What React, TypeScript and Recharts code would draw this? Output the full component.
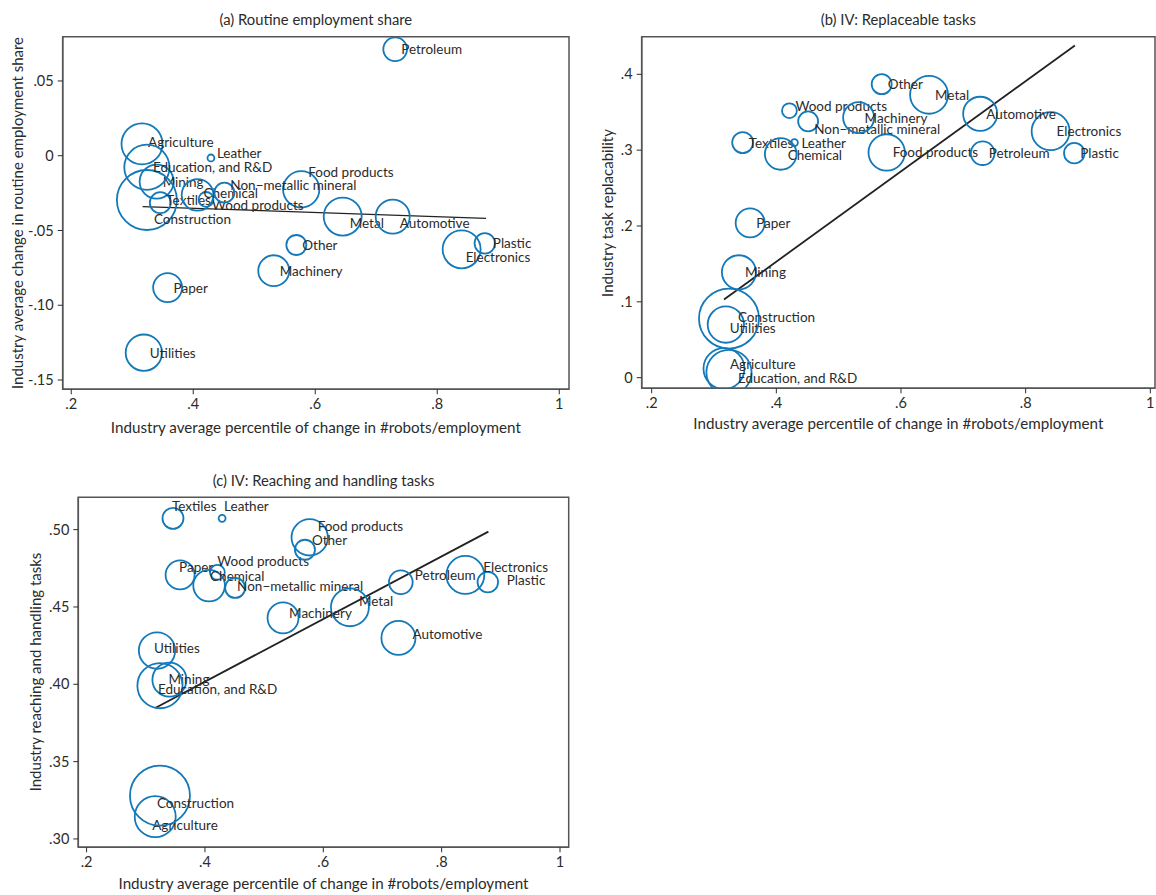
import React from 'react';
import {
  ScatterChart,
  Scatter,
  XAxis,
  YAxis,
  ZAxis,
  ReferenceLine,
  ReferenceArea,
} from 'recharts';

// Industries, in the same order in every array below
const industries = [
  'Agriculture', 'Mining', 'Utilities', 'Construction', 'Food products',
  'Textiles', 'Leather', 'Wood products', 'Paper', 'Chemical', 'Plastic',
  'Non−metallic mineral', 'Metal', 'Machinery', 'Electronics', 'Automotive',
  'Petroleum', 'Other', 'Education, and R&D',
];

// x: industry average percentile of change in #robots/employment
const robotPct = [
  0.316, 0.340, 0.319, 0.324, 0.577, 0.346, 0.429, 0.421, 0.358, 0.407, 0.878,
  0.451, 0.645, 0.532, 0.840, 0.727, 0.731, 0.569, 0.324,
];

// bubble weights (employment)
const weights = [
  4.2, 2.9, 3.3, 9.0, 3.3, 1.1, 0.12, 0.55, 2.1, 2.5, 1.05,
  1.0, 3.6, 2.4, 3.6, 2.9, 1.4, 1.0, 5.1,
];

// (a) change in routine employment share
const routineChange = [
  0.0079, -0.0173, -0.1317, -0.0296, -0.0225, -0.0314, -0.0015, -0.0292, -0.0882, -0.0262, -0.0586,
  -0.0247, -0.0407, -0.0769, -0.0626, -0.0407, 0.0712, -0.0597, -0.0077,
];

// (b) task replacability
const replaceability = [
  0.012, 0.139, 0.070, 0.078, 0.297, 0.310, 0.310, 0.352, 0.204, 0.295, 0.296,
  0.338, 0.373, 0.343, 0.325, 0.348, 0.296, 0.387, 0.007,
];

// (c) reaching and handling tasks
const reaching = [
  0.3144, 0.403, 0.4218, 0.328, 0.495, 0.5073, 0.5073, 0.4724, 0.4707, 0.4638, 0.466,
  0.4623, 0.4498, 0.4429, 0.4707, 0.430, 0.466, 0.487, 0.3991,
];

// fitted lines (end points)
const fitA = [{ x: 0.317, y: -0.034 }, { x: 0.88, y: -0.0419 }];
const fitB = [{ x: 0.316, y: 0.103 }, { x: 0.879, y: 0.438 }];
const fitC = [{ x: 0.316, y: 0.3847 }, { x: 0.879, y: 0.4987 }];

const xTicks = [0.2, 0.4, 0.6, 0.8, 1];
const xTickLabels = ['.2', '.4', '.6', '.8', '1'];
const yTicksA = [0.05, 0, -0.05, -0.1, -0.15];
const yTickLabelsA = ['.05', '0', '-.05', '-.10', '-.15'];
const yTicksB = [0, 0.1, 0.2, 0.3, 0.4];
const yTickLabelsB = ['0', '.1', '.2', '.3', '.4'];
const yTicksC = [0.3, 0.35, 0.4, 0.45, 0.5];
const yTickLabelsC = ['.30', '.35', '.40', '.45', '.50'];

// label offsets [dx, dy] from the bubble centre (default [6, 0])
const offsetsA: Record<string, number[]> = {
  Agriculture: [6, -2], Leather: [6, -5], 'Non−metallic mineral': [6, -8],
  Chemical: [6, -2], Textiles: [6, -3], 'Wood products': [6, 6],
  Construction: [7, 19], 'Food products': [7, -17], Metal: [7, 6],
  Automotive: [7, 6], Electronics: [4, 8], Plastic: [8, 0],
};
const offsetsB: Record<string, number[]> = {
  'Wood products': [6, -5], 'Non−metallic mineral': [6, 8], Leather: [7, 0],
  Chemical: [7, 1], Construction: [9, -2], Utilities: [4, 3],
  Agriculture: [6, -5], 'Education, and R&D': [9, 6],
};
const offsetsC: Record<string, number[]> = {
  Textiles: [-1, -12], Leather: [2, -12], 'Food products': [8, -11], Other: [7, -10],
  'Wood products': [0, -11], Paper: [-1, -8], Chemical: [1, -10],
  'Non−metallic mineral': [2, -2], Petroleum: [14, -7], Electronics: [18, -8],
  Plastic: [19, -2], Metal: [9, -6], Machinery: [6, -5], Automotive: [14, -4],
  Utilities: [-3, -3], Mining: [-1, -1], 'Education, and R&D': [-2, 3],
  Construction: [-3, 7], Agriculture: [-3, 8],
};

const FONT = 'Lato, "Open Sans", sans-serif';
const BLUE = '#1479b8';
const INK = '#2b2b2b';
const FRAME = '#555555';

const makeRows = (ys: number[]) =>
  industries.map((name, i) => ({ name, x: robotPct[i], y: ys[i], w: weights[i] }));

const labelOf = (ticks: number[], labels: string[]) => (v: number) => {
  const i = ticks.findIndex(t => Math.abs(t - v) < 1e-9);
  return i >= 0 ? labels[i] : '';
};

interface PanelProps {
  left: number;
  top: number;
  width: number;
  height: number;
  marginTop: number;
  marginRight: number;
  yAxisWidth: number;
  xAxisHeight: number;
  xDomain: number[];
  yDomain: number[];
  yTicks: number[];
  yTickLabels: string[];
  ys: number[];
  fit: { x: number; y: number }[];
  offsets: Record<string, number[]>;
  title: string;
  titleY: number;
  xTitle: string;
  xTitleY: number;
  yTitle: string;
  yTitleX: number;
  fitWidth: number;
}

const Panel: React.FC<PanelProps> = p => {
  const rows = makeRows(p.ys);
  const plotLeft = p.yAxisWidth;
  const plotRight = p.width - p.marginRight;
  const plotTop = p.marginTop;
  const plotBottom = p.height - p.xAxisHeight;
  const cx = (plotLeft + plotRight) / 2;
  const cy = (plotTop + plotBottom) / 2;

  const bubble = (props: any) => {
    const { cx: x, cy: y, payload } = props;
    if (x == null || y == null) return <g />;
    const r = props.width ? props.width / 2 : Math.sqrt((props.size || 0) / Math.PI);
    const off = p.offsets[payload.name] || [6, 0];
    return (
      <g>
        <circle cx={x} cy={y} r={r} fill="none" stroke={BLUE} strokeWidth={1.8} />
        <text
          x={x + off[0]}
          y={y + off[1]}
          dominantBaseline="central"
          fontFamily={FONT}
          fontSize={13.5}
          fill={INK}
        >
          {payload.name}
        </text>
      </g>
    );
  };

  const textStyle: React.CSSProperties = {
    position: 'absolute',
    fontFamily: FONT,
    color: INK,
    whiteSpace: 'nowrap',
    transform: 'translate(-50%, -50%)',
    lineHeight: 1,
  };

  return (
    <div style={{ position: 'absolute', left: p.left, top: p.top, width: p.width, height: p.height }}>
      <ScatterChart
        width={p.width}
        height={p.height}
        margin={{ top: p.marginTop, right: p.marginRight, bottom: 0, left: 0 }}
      >
        <XAxis
          type="number"
          dataKey="x"
          domain={p.xDomain}
          allowDataOverflow
          ticks={xTicks}
          interval={0}
          tickFormatter={labelOf(xTicks, xTickLabels)}
          height={p.xAxisHeight}
          tickSize={5}
          tickMargin={4}
          axisLine={{ stroke: FRAME, strokeWidth: 1.5 }}
          tickLine={{ stroke: INK }}
          tick={{ fill: INK, fontSize: 14.5, fontFamily: FONT }}
        />
        <YAxis
          type="number"
          dataKey="y"
          domain={p.yDomain}
          allowDataOverflow
          ticks={p.yTicks}
          interval={0}
          tickFormatter={labelOf(p.yTicks, p.yTickLabels)}
          width={p.yAxisWidth}
          tickSize={5}
          tickMargin={4}
          axisLine={{ stroke: FRAME, strokeWidth: 1.5 }}
          tickLine={{ stroke: INK }}
          tick={{ fill: INK, fontSize: 14.5, fontFamily: FONT }}
        />
        <ZAxis type="number" dataKey="w" domain={[0, 9]} range={[0, Math.PI * 900]} />
        <ReferenceArea
          x1={p.xDomain[0]}
          x2={p.xDomain[1]}
          y1={p.yDomain[0]}
          y2={p.yDomain[1]}
          fill="none"
          stroke={FRAME}
          strokeWidth={1.5}
          ifOverflow="visible"
        />
        <Scatter data={rows} shape={bubble} isAnimationActive={false} />
        <ReferenceLine
          segment={[p.fit[0], p.fit[1]]}
          stroke="#222222"
          strokeWidth={p.fitWidth}
          ifOverflow="visible"
        />
      </ScatterChart>
      <div style={{ ...textStyle, left: cx, top: p.titleY, fontSize: 14.8 }}>{p.title}</div>
      <div style={{ ...textStyle, left: cx, top: p.xTitleY, fontSize: 15.2 }}>{p.xTitle}</div>
      <div style={{ ...textStyle, left: p.yTitleX, top: cy, fontSize: 15, transform: 'translate(-50%, -50%) rotate(-90deg)' }}>
        {p.yTitle}
      </div>
    </div>
  );
};

const X_TITLE = 'Industry average percentile of change in #robots/employment';

export default function App() {
  return (
    <div style={{ position: 'absolute', left: 0, top: 0, width: 1156, height: 895, background: '#fff' }}>
      <Panel
        left={0}
        top={0}
        width={580}
        height={440}
        marginTop={36.7}
        marginRight={11}
        yAxisWidth={62.7}
        xAxisHeight={50.7}
        xDomain={[0.186, 1.016]}
        yDomain={[-0.1562, 0.0796]}
        yTicks={yTicksA}
        yTickLabels={yTickLabelsA}
        ys={routineChange}
        fit={fitA}
        offsets={offsetsA}
        title="(a) Routine employment share"
        titleY={18.5}
        xTitle={X_TITLE}
        xTitleY={428}
        yTitle="Industry average change in routine employment share"
        yTitleX={16.5}
        fitWidth={1.2}
      />
      <Panel
        left={580}
        top={0}
        width={576}
        height={440}
        marginTop={36.7}
        marginRight={1}
        yAxisWidth={61.7}
        xAxisHeight={51.7}
        xDomain={[0.184, 1.0075]}
        yDomain={[-0.014, 0.4496]}
        yTicks={yTicksB}
        yTickLabels={yTickLabelsB}
        ys={replaceability}
        fit={fitB}
        offsets={offsetsB}
        title="(b) IV: Replaceable tasks"
        titleY={18.5}
        xTitle={X_TITLE}
        xTitleY={424}
        yTitle="Industry task replacability"
        yTitleX={27.3}
        fitWidth={1.8}
      />
      <Panel
        left={0}
        top={460}
        width={580}
        height={435}
        marginTop={37.3}
        marginRight={11.3}
        yAxisWidth={78.3}
        xAxisHeight={47.7}
        xDomain={[0.186, 1.0147]}
        yDomain={[0.2946, 0.5209]}
        yTicks={yTicksC}
        yTickLabels={yTickLabelsC}
        ys={reaching}
        fit={fitC}
        offsets={offsetsC}
        title="(c) IV: Reaching and handling tasks"
        titleY={20}
        xTitle={X_TITLE}
        xTitleY={424}
        yTitle="Industry reaching and handling tasks"
        yTitleX={35}
        fitWidth={1.8}
      />
    </div>
  );
}
